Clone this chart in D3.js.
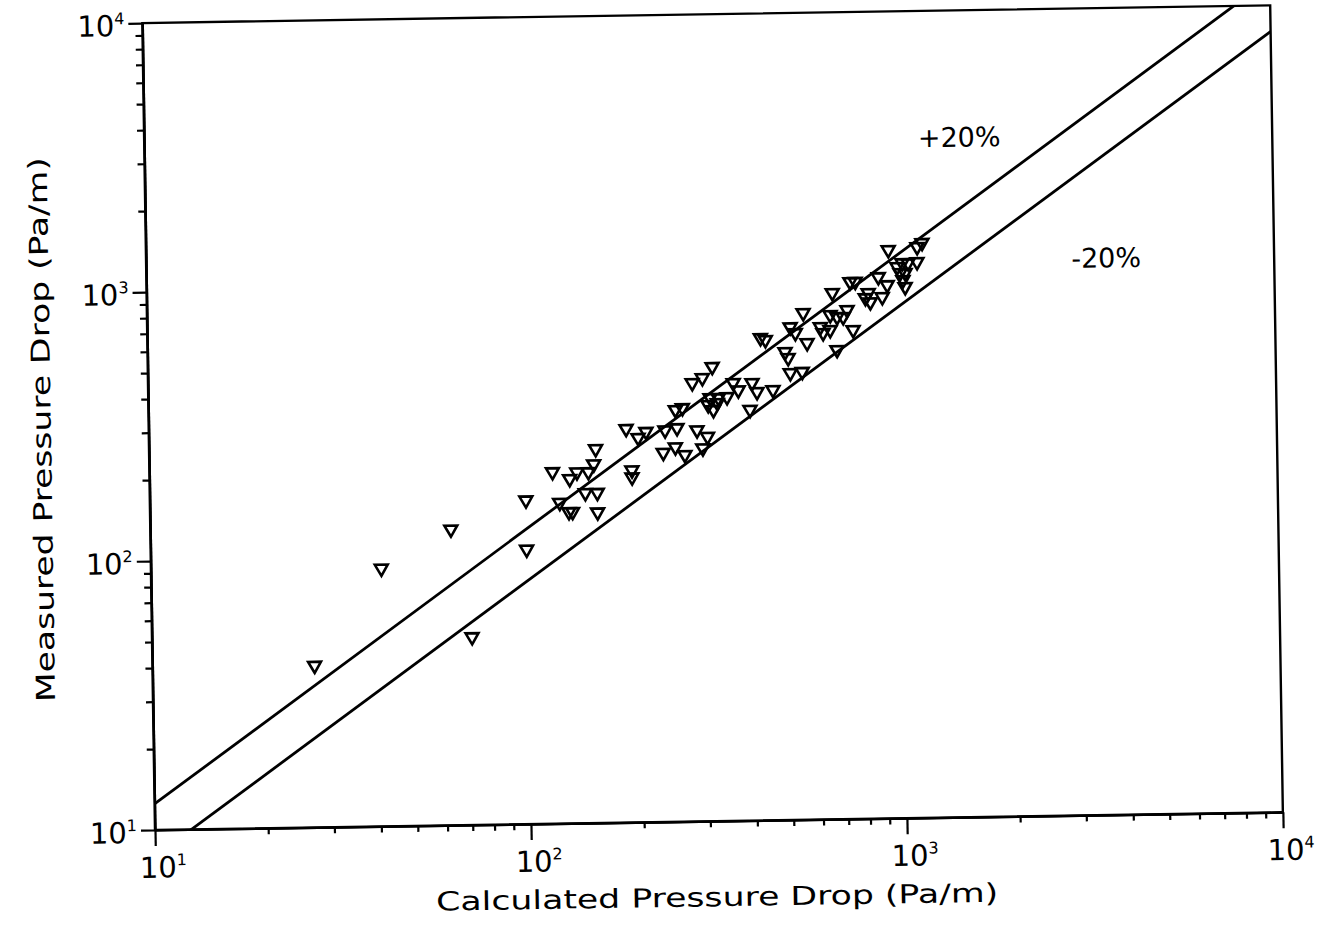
<!DOCTYPE html>
<html>
<head>
<meta charset="utf-8">
<script src="https://cdn.jsdelivr.net/npm/d3@7"></script>
<style>
body { margin: 0; background: #fff; }
text { font-family: "DejaVu Sans", sans-serif; fill: #000; }
</style>
</head>
<body>
<script>
// calculated vs measured pressure drop, Pa/m
var calcDrop = [
    27, 41, 63, 71, 100, 100,
    118, 123, 130, 133, 131, 137, 147, 152, 144, 155, 155, 154, 186, 192, 192, 200, 210, 236, 233,
    251, 266, 254, 252, 263, 280, 298, 317, 287, 306, 297, 312, 328, 346, 308, 326, 318,
    360, 371, 398, 404, 416, 459, 440, 427,
    496, 505, 513, 529, 556, 568, 511, 550, 617, 627, 655, 684, 710, 728, 754, 682, 666, 656,
    743, 767, 815, 830, 840, 884, 904, 933, 942, 993, 1011, 1024, 1028, 1042, 1041, 1062, 1122, 1124, 1159
];
var measDrop = [
    40, 91, 126, 50, 105, 160,
    203, 156, 144, 144, 191, 202, 202, 216, 169, 169, 143, 246, 291, 204, 192, 269, 283, 286, 236,
    247, 231, 291, 340, 345, 427, 445, 489, 285, 269, 244, 375, 374, 377, 353, 359, 338,
    425, 399, 337, 424, 392, 398, 611, 622,
    550, 522, 680, 646, 766, 592, 459, 463, 678, 644, 660, 737, 736, 781, 658, 556, 906, 750,
    993, 993, 863, 901, 833, 1031, 869, 962, 1298, 1121, 1065, 1159, 1002, 1064, 944, 1158, 1167, 1327, 1374
];

// +/-20% band lines: measured = factor * calculated
var bandFactors = [1.25, 0.8];
var bandLabels = ['+20%', '-20%'];

var majorTicks = [10, 100, 1000, 10000];
var minorTicks = [];
[10, 100, 1000].forEach(function (p) {
    for (var k = 2; k <= 9; k++) minorTicks.push(p * k);
});

var W = 1321, H = 925;
var pLeft = 155, pTop = 23, pRight = 1283, pBottom = 830;

var x = d3.scaleLog().domain([10, 10000]).range([pLeft, pRight]);
var y = d3.scaleLog().domain([10, 10000]).range([pBottom, pTop]);

var svg = d3.select('body').append('svg')
    .attr('width', W)
    .attr('height', H);

// the scanned original sits a little crooked
var g = svg.append('g')
    .attr('transform', 'rotate(-0.9,' + pLeft + ',' + pBottom + ')');

function powLabel(sel) {
    sel.each(function (d) {
        var t = d3.select(this).text(null);
        t.append('tspan').text('10');
        t.append('tspan')
            .attr('dy', '-0.75em')
            .style('font-size', '16px')
            .text(Math.round(Math.log10(d)));
    });
}

function styleAxis(a) {
    a.selectAll('path, line').attr('stroke', '#000').attr('stroke-width', 2.2);
}

// minor ticks
g.append('g')
    .attr('transform', 'translate(0,' + pBottom + ')')
    .call(d3.axisBottom(x).tickValues(minorTicks).tickSize(6).tickSizeOuter(0).tickFormat(''))
    .call(styleAxis);
g.append('g')
    .attr('transform', 'translate(' + pLeft + ',0)')
    .call(d3.axisLeft(y).tickValues(minorTicks).tickSize(7).tickSizeOuter(0).tickFormat(''))
    .call(styleAxis);

// major ticks + labels
var xAx = g.append('g')
    .attr('transform', 'translate(0,' + pBottom + ')')
    .call(d3.axisBottom(x).tickValues(majorTicks).tickSize(16).tickSizeOuter(0).tickPadding(7))
    .call(styleAxis);
xAx.selectAll('.tick text')
    .style('font-size', '29px')
    .attr('dy', '0.85em')
    .attr('dx', '0.25em')
    .call(powLabel);

var yAx = g.append('g')
    .attr('transform', 'translate(' + pLeft + ',0)')
    .call(d3.axisLeft(y).tickValues(majorTicks).tickSize(14).tickSizeOuter(0).tickPadding(4))
    .call(styleAxis);
yAx.selectAll('.tick text')
    .style('font-size', '29px')
    .attr('dy', '0.42em')
    .call(powLabel);

// frame
g.append('rect')
    .attr('x', pLeft)
    .attr('y', pTop)
    .attr('width', pRight - pLeft)
    .attr('height', pBottom - pTop)
    .attr('fill', 'none')
    .attr('stroke', '#000')
    .attr('stroke-width', 2.4);

g.append('clipPath').attr('id', 'plotclip')
    .append('rect')
    .attr('x', pLeft)
    .attr('y', pTop)
    .attr('width', pRight - pLeft)
    .attr('height', pBottom - pTop);

// band lines
var line = d3.line()
    .x(function (d) { return x(d[0]); })
    .y(function (d) { return y(d[1]); });

g.append('g')
    .attr('clip-path', 'url(#plotclip)')
    .selectAll('path')
    .data(bandFactors)
    .enter()
    .append('path')
    .attr('d', function (f) { return line([[8, 8 * f], [12000, 12000 * f]]); })
    .attr('fill', 'none')
    .attr('stroke', '#000')
    .attr('stroke-width', 2.8);

g.selectAll('.bandlabel')
    .data(bandLabels)
    .enter()
    .append('text')
    .attr('class', 'bandlabel')
    .attr('x', function (d, i) { return i === 0 ? 970 : 1115; })
    .attr('y', function (d, i) { return i === 0 ? 150 : 273; })
    .attr('dy', '0.35em')
    .attr('text-anchor', 'middle')
    .style('font-size', '27px')
    .text(function (d) { return d; });

// data points: open down-pointing triangles
var tri = d3.symbol().type(d3.symbolTriangle).size(72);
g.selectAll('.pt')
    .data(calcDrop.map(function (c, i) { return { c: c, m: measDrop[i] }; }))
    .enter()
    .append('path')
    .attr('class', 'pt')
    .attr('d', tri)
    .attr('transform', function (d) {
        return 'translate(' + x(d.c) + ',' + y(d.m) + ') rotate(180)';
    })
    .attr('fill', 'none')
    .attr('stroke', '#000')
    .attr('stroke-width', 2.6);

// axis titles
g.append('text')
    .attr('x', (pLeft + pRight) / 2 - 3)
    .attr('y', 915)
    .attr('text-anchor', 'middle')
    .attr('textLength', 562)
    .attr('lengthAdjust', 'spacingAndGlyphs')
    .style('font-size', '26px')
    .text('Calculated Pressure Drop (Pa/m)');

g.append('text')
    .attr('transform', 'translate(48,428) rotate(-90)')
    .attr('text-anchor', 'middle')
    .attr('dy', '0.35em')
    .attr('textLength', 545)
    .attr('lengthAdjust', 'spacingAndGlyphs')
    .style('font-size', '26px')
    .text('Measured Pressure Drop (Pa/m)');
</script>
</body>
</html>
